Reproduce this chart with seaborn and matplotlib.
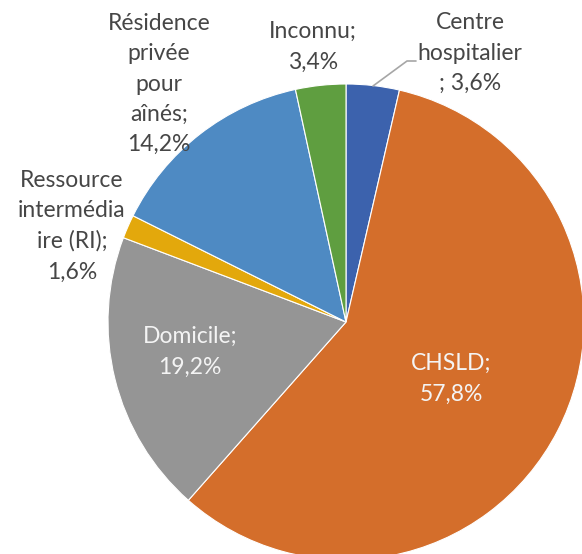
import matplotlib
matplotlib.use("Agg")
import matplotlib.pyplot as plt
import seaborn as sns

categories = ["Centre hospitalier", "CHSLD", "Domicile", "Ressource intermédiaire (RI)",
              "Résidence privée pour aînés", "Inconnu"]
values = [3.6, 57.8, 19.2, 1.6, 14.2, 3.4]
labels = ["Centre\nhospitalier\n; 3,6%", "CHSLD;\n57,8%", "Domicile;\n19,2%",
          "Ressource\nintermédia\nire (RI);\n1,6%", "Résidence\nprivée\npour\naînés;\n14,2%",
          "Inconnu;\n3,4%"]
colors = ["#3C62AD", "#D46E2B", "#959595", "#E3A80C", "#4E8AC3", "#5F9E40"]

sns.set_style("white")
plt.rcParams['font.family'] = ['Lato', 'DejaVu Sans']
palette = sns.color_palette(colors)

W, H = 582, 554
fig = plt.figure(figsize=(W / 100, H / 100), dpi=100)
ax = fig.add_axes([0, 0, 1, 1])
R = 238.0
cx, cy = 346.0, 322.0

def d(px, py):
    return (px - cx) / R, (cy - py) / R

ax.pie(values, colors=palette, startangle=90, counterclock=False, radius=1,
       wedgeprops=dict(edgecolor="white", linewidth=0.8))
ax.set_xlim(-cx / R, (W - cx) / R)
ax.set_ylim(-(H - cy) / R, cy / R)
ax.set_aspect("equal")
ax.axis("off")

pos = [(470, 53), (451, 379), (190, 352), (72, 226), (159, 84), (313, 47)]
txtcol = ["#464646", "#F4F4F4", "#F4F4F4", "#464646", "#464646", "#464646"]
for lab, (px, py), c in zip(labels, pos, txtcol):
    x, y = d(px, py)
    ax.text(x, y, lab, ha="center", va="center", fontsize=16.5, color=c,
            fontweight="normal", linespacing=1.55)

# leader line for Centre hospitalier
p1 = d(373, 86); p2 = d(407, 61); p3 = d(416, 61)
ax.plot([p1[0], p2[0], p3[0]], [p1[1], p2[1], p3[1]], color="#A6A6A6", lw=1.2)

fig.savefig("out.png", dpi=100)
